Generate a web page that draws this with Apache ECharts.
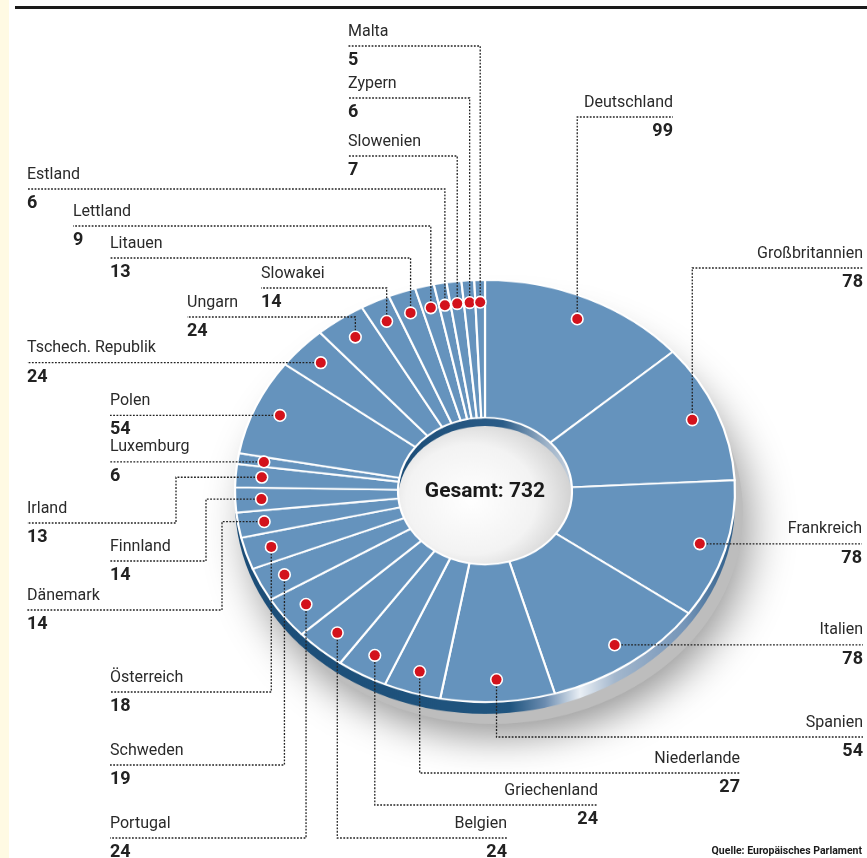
<!DOCTYPE html>
<html>
<head>
<meta charset="utf-8">
<script src="https://cdn.jsdelivr.net/npm/echarts@6/dist/echarts.min.js"></script>
<style>
  html, body { margin: 0; padding: 0; background: #fff; }
  #wrap { position: relative; width: 867px; height: 858px; overflow: hidden; }
  #pie, #labels { position: absolute; left: 0; top: 0; width: 867px; height: 858px; }
  /* tilt the disc: the pie is drawn round, then squeezed into an ellipse */
  #pie { transform-origin: 485px 491px; transform: scaleY(0.844); }
</style>
</head>
<body>
<div id="wrap"><div id="pie"></div><div id="labels"></div></div>
<script>
// Sitze im Europäischen Parlament, im Uhrzeigersinn ab 12 Uhr
var countries = ['Deutschland', 'Großbritannien', 'Frankreich', 'Italien', 'Spanien',
  'Niederlande', 'Griechenland', 'Belgien', 'Portugal', 'Schweden', 'Österreich',
  'Dänemark', 'Finnland', 'Irland', 'Luxemburg', 'Polen', 'Tschech. Republik',
  'Ungarn', 'Slowakei', 'Litauen', 'Lettland', 'Estland', 'Slowenien', 'Zypern', 'Malta'];
var seats = [99, 78, 78, 78, 54, 27, 24, 24, 24, 19, 18, 14, 14, 13, 6, 54, 24, 24, 14, 13, 9, 6, 7, 6, 5];

var totalLabel = 'Gesamt: ';
var sourceText = 'Quelle: Europäisches Parlament';

// where each label sits: [x, side, line y ('h' = straight to the dot), bend x]
var labelSpots = [
  [673, 'r', 117],
  [863, 'r', 268],
  [862, 'r', 'h'],
  [863, 'r', 'h'],
  [863, 'r', 737],
  [740, 'r', 773],
  [598, 'r', 805],
  [507, 'r', 838],
  [110, 'l', 838],
  [110, 'l', 765],
  [110, 'l', 692],
  [27, 'l', 610, 222],
  [110, 'l', 561, 206],
  [27, 'l', 523, 176],
  [110, 'l', 'h'],
  [110, 'l', 'h'],
  [27, 'l', 'h'],
  [187, 'l', 317],
  [261, 'l', 288],
  [110, 'l', 258],
  [73, 'l', 226],
  [27, 'l', 189],
  [348, 'l', 156],
  [348, 'l', 98],
  [348, 'l', 46]
];

var CX = 485, CY = 491, R_OUT = 250, R_IN = 87, TILT = 0.844, DOT_K = 0.895;
var FONT = 'Roboto, "Open Sans", sans-serif';

var pieData = countries.map(function (c, i) { return { name: c, value: seats[i] }; });
var total = seats.reduce(function (a, b) { return a + b; }, 0);

// edge point of the round pie -> dot position on the tilted disc
function dotOf(p) {
  return [CX + (p[0] - CX) * DOT_K, CY + (p[1] - CY) * DOT_K * TILT];
}

// ---------- disc ----------
var pieChart = echarts.init(document.getElementById('pie'));
pieChart.setOption({
  animation: false,
  series: [
    { // shadow
      type: 'pie', silent: true, center: [CX + 8, CY + 26], radius: [0, R_OUT],
      label: { show: false }, emphasis: { disabled: true },
      itemStyle: { color: '#bdbdbd', shadowBlur: 45, shadowColor: 'rgba(0,0,0,0.42)', shadowOffsetX: 6, shadowOffsetY: 16 },
      data: [1]
    },
    { // side of the disc
      type: 'pie', silent: true, center: [CX, CY + 14], radius: [0, R_OUT],
      label: { show: false }, emphasis: { disabled: true },
      itemStyle: {
        color: new echarts.graphic.LinearGradient(0, 0, 1, 0, [
          { offset: 0, color: '#1c4d77' },
          { offset: 0.55, color: '#20557f' },
          { offset: 0.62, color: '#6b8cb0' },
          { offset: 0.69, color: '#e9eff5' },
          { offset: 0.76, color: '#a3b7cd' },
          { offset: 0.9, color: '#7595b8' },
          { offset: 1, color: '#2b5b87' }
        ])
      },
      data: [1]
    },
    { // inner wall of the hole
      type: 'pie', silent: true, center: [CX, CY], radius: [0, R_IN + 1],
      label: { show: false }, emphasis: { disabled: true },
      itemStyle: {
        color: new echarts.graphic.LinearGradient(0, 0, 1, 0, [
          { offset: 0, color: '#1c4d77' },
          { offset: 0.6, color: '#2a5c88' },
          { offset: 0.85, color: '#9db2c8' },
          { offset: 1, color: '#c7d2de' }
        ])
      },
      data: [1]
    },
    { // floor of the hole
      type: 'pie', silent: true, center: [CX, CY + 10], radius: [0, R_IN],
      label: { show: false }, emphasis: { disabled: true },
      itemStyle: {
        color: new echarts.graphic.RadialGradient(0.42, 0.5, 0.75, [
          { offset: 0, color: '#ffffff' },
          { offset: 0.5, color: '#f3f3f3' },
          { offset: 0.85, color: '#c9c9c9' },
          { offset: 1, color: '#b3b3b3' }
        ])
      },
      data: [1]
    },
    { // the slices
      type: 'pie', silent: true, center: [CX, CY], radius: [R_IN, R_OUT],
      startAngle: 90, clockwise: true,
      label: { show: false }, emphasis: { disabled: true },
      itemStyle: { color: '#6593bd', borderColor: '#ffffff', borderWidth: 2.2 },
      data: pieData
    }
  ]
});

// ---------- labels, leader lines, dots ----------
var labelChart = echarts.init(document.getElementById('labels'));
labelChart.setOption({
  animation: false,
  graphic: [
    { type: 'rect', silent: true, shape: { x: 0, y: 0, width: 9, height: 858 }, style: { fill: '#fffae3' } },
    { type: 'rect', silent: true, shape: { x: 15, y: 6, width: 852, height: 3 }, style: { fill: '#1a1a1a' } },
    {
      type: 'text', silent: true, x: CX, y: CY + 1,
      style: { text: totalLabel + total, align: 'center', verticalAlign: 'middle',
        font: 'bold 21px ' + FONT, fill: '#1a1a1a' }
    },
    {
      type: 'text', silent: true, x: 862, y: 851,
      style: { text: sourceText, align: 'right', verticalAlign: 'middle',
        font: 'bold 10.5px ' + FONT, fill: '#1a1a1a' }
    }
  ],
  series: [
    {
      type: 'pie', silent: true, z: 2,
      center: [CX, CY], radius: [R_IN, R_OUT], startAngle: 90, clockwise: true,
      avoidLabelOverlap: false, emphasis: { disabled: true },
      itemStyle: { color: 'rgba(0,0,0,0)', borderWidth: 0 },
      label: {
        show: true, position: 'outside', overflow: 'none',
        formatter: '{n|{b}}\n{v|{c}}', color: '#222',
        rich: {
          n: { fontFamily: FONT, fontSize: 16, lineHeight: 29, color: '#2a2a2a' },
          v: { fontFamily: FONT, fontSize: 18, fontWeight: 'bold', lineHeight: 29, color: '#222' }
        }
      },
      labelLine: { show: true, length: 10, length2: 10,
        lineStyle: { color: '#222', width: 1.3, type: [1.8, 1.5] } },
      labelLayout: function (p) {
        var s = labelSpots[p.dataIndex];
        var d = dotOf(p.labelLinePoints[0]);
        var x = s[0];
        var y = s[2] === 'h' ? d[1] : s[2];
        var pts;
        if (s[2] === 'h') pts = [d, [x, y]];
        else if (s[3]) pts = [d, [s[3], d[1]], [s[3], y], [x, y]];
        else pts = [d, [d[0], y], [x, y]];
        return { x: x, y: y, align: s[1] === 'r' ? 'right' : 'left', verticalAlign: 'middle', labelLinePoints: pts };
      },
      data: pieData
    },
    {
      type: 'pie', silent: true, z: 5,
      center: [CX, CY], radius: [R_IN, R_OUT], startAngle: 90, clockwise: true,
      avoidLabelOverlap: false, emphasis: { disabled: true },
      itemStyle: { color: 'rgba(0,0,0,0)', borderWidth: 0 },
      label: {
        show: true, position: 'outside', formatter: ' ', fontSize: 1, lineHeight: 10,
        width: 10, height: 10, padding: 0,
        backgroundColor: '#d3121c', borderColor: '#ffffff', borderWidth: 1.6, borderRadius: 7
      },
      labelLine: { show: true, lineStyle: { width: 0, opacity: 0 } },
      labelLayout: function (p) {
        var d = dotOf(p.labelLinePoints[0]);
        return { x: d[0], y: d[1], align: 'center', verticalAlign: 'middle' };
      },
      data: pieData
    }
  ]
});
</script>
</body>
</html>
